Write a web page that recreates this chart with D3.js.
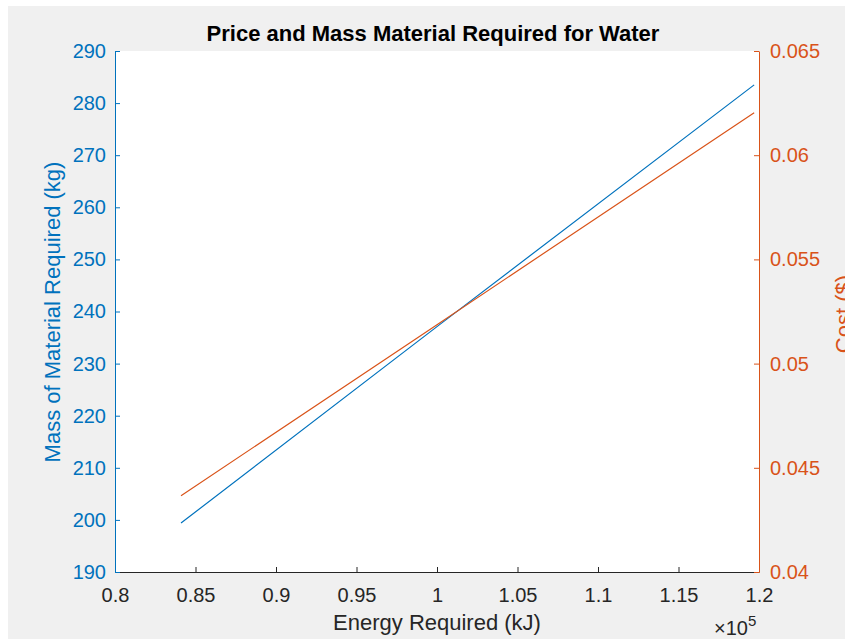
<!DOCTYPE html>
<html>
<head>
<meta charset="utf-8">
<script src="https://cdn.jsdelivr.net/npm/d3@7"></script>
<style>
  body { margin: 0; background: #fff; }
  svg { display: block; font-family: "Liberation Sans", Arial, Helvetica, sans-serif; }
</style>
</head>
<body>
<div id="graphique"></div>
<script>
// --- DONNÉES ---
const energie = [84100, 100000, 119700];      // énergie requise (kJ)
const masse = [199.4, 237.1, 283.5];          // masse de matériau (kg)
const cout = [0.04366, 0.05187, 0.06204];     // coût ($)
const ticksX = [80000, 85000, 90000, 95000, 100000, 105000, 110000, 115000, 120000];
const ticksMasse = [190, 200, 210, 220, 230, 240, 250, 260, 270, 280, 290];
const ticksCout = [0.04, 0.045, 0.05, 0.055, 0.06, 0.065];

// --- CONFIGURATION ---
const largeur = 845;
const hauteur = 639;
const marge = { gauche: 115, droite: 759, haut: 51, bas: 572 };
const bleu = "#0072BD";
const orange = "#D95319";
const gris = "#262626";

const svg = d3.select("#graphique")
    .append("svg")
    .attr("width", largeur)
    .attr("height", hauteur);

// fond gris (comme la figure MATLAB)
svg.append("rect")
    .attr("x", 8).attr("y", 6)
    .attr("width", largeur - 8).attr("height", hauteur - 6)
    .attr("fill", "#f0f0f0");

// zone de tracé blanche
svg.append("rect")
    .attr("x", marge.gauche).attr("y", marge.haut)
    .attr("width", marge.droite - marge.gauche)
    .attr("height", marge.bas - marge.haut)
    .attr("fill", "#fff");

// --- ÉCHELLES ---
const x = d3.scaleLinear().domain([80000, 120000]).range([marge.gauche, marge.droite]);
const yMasse = d3.scaleLinear().domain([190, 290]).range([marge.bas, marge.haut]);
const yCout = d3.scaleLinear().domain([0.04, 0.065]).range([marge.bas, marge.haut]);

const fmt = d => String(+d.toFixed(3));

// --- AXES ---
function styliser(g, couleur) {
    g.select(".domain").attr("stroke", couleur).attr("stroke-width", 1);
    g.selectAll(".tick line").attr("stroke", couleur);
    g.selectAll(".tick text").attr("fill", couleur).attr("font-size", 20);
}

// axe X (ticks vers l'intérieur)
svg.append("g")
    .attr("transform", `translate(0,${marge.bas})`)
    .call(d3.axisBottom(x).tickValues(ticksX).tickSizeInner(-5).tickSizeOuter(0)
        .tickPadding(12).tickFormat(d => fmt(d / 1e5)))
    .call(g => styliser(g, gris))
    .call(g => g.selectAll(".tick text").attr("dy", "0.71em").attr("y", 16));

// axe gauche (masse)
svg.append("g")
    .attr("transform", `translate(${marge.gauche},0)`)
    .call(d3.axisLeft(yMasse).tickValues(ticksMasse).tickSizeInner(-5).tickSizeOuter(0)
        .tickPadding(9).tickFormat(fmt))
    .call(g => styliser(g, bleu));

// axe droit (coût)
svg.append("g")
    .attr("transform", `translate(${marge.droite},0)`)
    .call(d3.axisRight(yCout).tickValues(ticksCout).tickSizeInner(-5).tickSizeOuter(0)
        .tickPadding(11).tickFormat(fmt))
    .call(g => styliser(g, orange));

// --- COURBES ---
const ligneMasse = d3.line().x((d, i) => x(energie[i])).y(d => yMasse(d));
const ligneCout = d3.line().x((d, i) => x(energie[i])).y(d => yCout(d));

svg.append("path")
    .datum(masse)
    .attr("d", ligneMasse)
    .attr("fill", "none")
    .attr("stroke", bleu)
    .attr("stroke-width", 1.2);

svg.append("path")
    .datum(cout)
    .attr("d", ligneCout)
    .attr("fill", "none")
    .attr("stroke", orange)
    .attr("stroke-width", 1.2);

// --- TEXTES ---
svg.append("text")
    .attr("x", 433).attr("y", 41)
    .attr("text-anchor", "middle")
    .attr("font-size", 22)
    .attr("font-weight", "bold")
    .attr("fill", "#000")
    .text("Price and Mass Material Required for Water");

svg.append("text")
    .attr("x", 437).attr("y", 630)
    .attr("text-anchor", "middle")
    .attr("font-size", 22)
    .attr("fill", gris)
    .text("Energy Required (kJ)");

svg.append("text")
    .attr("transform", "translate(60,312) rotate(-90)")
    .attr("text-anchor", "middle")
    .attr("font-size", 22)
    .attr("fill", bleu)
    .text("Mass of Material Required (kg)");

// coupé au bord droit, comme dans la figure d'origine
svg.append("text")
    .attr("transform", "translate(851,314) rotate(-90)")
    .attr("text-anchor", "middle")
    .attr("font-size", 22)
    .attr("fill", orange)
    .text("Cost ($)");

// multiplicateur ×10^5
const expo = svg.append("text")
    .attr("x", 714).attr("y", 635)
    .attr("font-size", 20)
    .attr("fill", gris);
expo.append("tspan").text("\u00d710");
expo.append("tspan").attr("dy", -9).attr("font-size", 15).text("5");
</script>
</body>
</html>
